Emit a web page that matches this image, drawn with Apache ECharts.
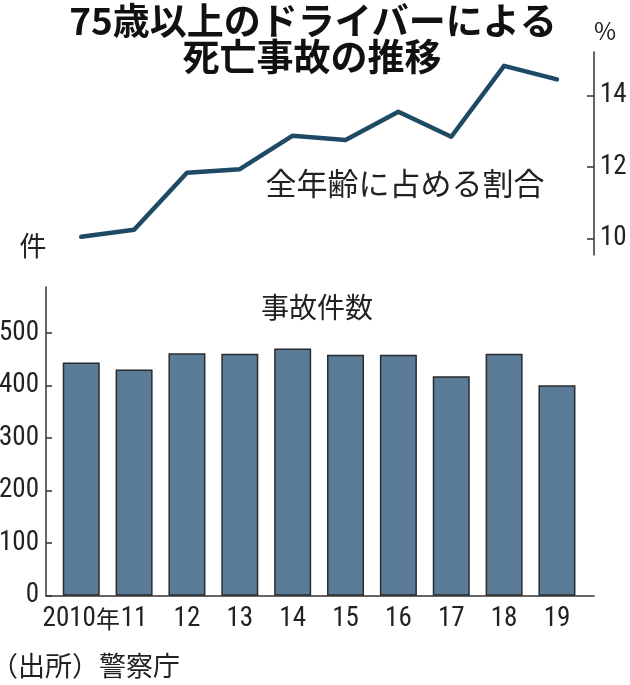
<!DOCTYPE html>
<html><head><meta charset="utf-8">
<script src="https://cdn.jsdelivr.net/npm/echarts@6/dist/echarts.min.js"></script>
<style>html,body{margin:0;padding:0;background:#fff}#c{width:630px;height:685px}</style>
</head><body><div id="c"></div>
<script>
// ---- data ----
const years = ['2010年', '11', '12', '13', '14', '15', '16', '17', '18', '19'];
const shareValues = [10.04, 10.24, 11.84, 11.94, 12.88, 12.76, 13.55, 12.85, 14.84, 14.46]; // 全年齢に占める割合 (%)
const accidentCounts = [444, 431, 462, 461, 471, 459, 459, 418, 461, 401]; // 事故件数 (件)
const shareTickRange = [10, 14];
const shareTickStep = 2;
const countTickRange = [0, 500];
const countTickStep = 100;

// ---- styles ----
const CJK = "'Noto Sans CJK JP', sans-serif";
const NUMLABEL = { fontFamily: 'Roboto', fontWeight: 'condensed', fontSize: 27, color: '#222' };
const AX = { color: '#333', width: 1.5 };
const TXT = '#222';

const G = { outerBoundsMode: 'none', containLabel: false };
const chart = echarts.init(document.getElementById('c'), null, { renderer: 'canvas' });
chart.setOption({
  animation: false,
  backgroundColor: '#fff',
  grid: [
    Object.assign({ left: 54.8, right: 46.6, top: 52, bottom: 430 }, G),     // line + right axis line
    Object.assign({ left: 54.8, right: 46.6, top: 95.7, bottom: 446.7 }, G), // right ticks/labels
    Object.assign({ left: 46, right: 36, top: 287, bottom: 89.3 }, G),       // bottom axis lines
    Object.assign({ left: 46, right: 36, top: 333.2, bottom: 89.3 }, G),     // left ticks/labels
    Object.assign({ left: 54.8, right: 46.6, top: 287, bottom: 89.3 }, G)    // bars
  ],
  xAxis: [
    { gridIndex: 0, type: 'category', data: years, show: false },
    { gridIndex: 1, type: 'category', data: years, show: false },
    { gridIndex: 2, type: 'value', min: 0, max: 1, axisLine: { show: true, onZero: false, lineStyle: AX },
      axisTick: { show: false }, axisLabel: { show: false }, splitLine: { show: false } },
    { gridIndex: 3, type: 'value', min: 0, max: 1, show: false },
    { gridIndex: 4, type: 'category', data: years,
      axisLine: { show: false }, axisTick: { show: false },
      axisLabel: Object.assign({ interval: 0, margin: 10,
        formatter: v => v.endsWith('年') ? v.slice(0, -1) + '{y|年}' : v,
        rich: { y: { fontFamily: CJK, fontSize: 24, color: TXT } } }, NUMLABEL) }
  ],
  yAxis: [
    { gridIndex: 0, type: 'value', position: 'right', offset: 10.6, min: 9.53, max: 15.23,
      axisLine: { show: true, lineStyle: AX }, axisTick: { show: false }, axisLabel: { show: false },
      splitLine: { show: false } },
    { gridIndex: 1, type: 'value', position: 'right', offset: 10.6,
      min: shareTickRange[0], max: shareTickRange[1], interval: shareTickStep,
      axisLine: { show: false }, axisTick: { show: true, inside: true, length: 7, lineStyle: AX },
      axisLabel: Object.assign({ margin: 6 }, NUMLABEL), splitLine: { show: false } },
    { gridIndex: 2, type: 'value', min: 0, max: 588,
      axisLine: { show: true, lineStyle: AX }, axisTick: { show: false }, axisLabel: { show: false },
      splitLine: { show: false } },
    { gridIndex: 3, type: 'value', min: countTickRange[0], max: countTickRange[1], interval: countTickStep,
      axisLine: { show: false }, axisTick: { show: true, inside: true, length: 6, lineStyle: AX },
      axisLabel: Object.assign({ margin: 7 }, NUMLABEL), splitLine: { show: false } },
    { gridIndex: 4, type: 'value', min: 0, max: 588, show: false }
  ],
  series: [
    { type: 'line', xAxisIndex: 0, yAxisIndex: 0, data: shareValues, symbol: 'none',
      lineStyle: { width: 4.5, color: '#1e4a66', cap: 'round', join: 'round' } },
    { type: 'bar', xAxisIndex: 4, yAxisIndex: 4, data: accidentCounts, barWidth: 37,
      itemStyle: { color: '#5b7c98', borderColor: '#2a2a2a', borderWidth: 1.5 } }
  ],
  graphic: [
    { type: 'text', x: 313, y: 21, style: { text: '75歳以上のドライバーによる', fill: '#111',
      font: "bold 37px 'Noto Sans CJK JP'", textAlign: 'center', textVerticalAlign: 'middle' } },
    { type: 'text', x: 312, y: 57, style: { text: '死亡事故の推移', fill: '#111',
      font: "bold 37px 'Noto Sans CJK JP'", textAlign: 'center', textVerticalAlign: 'middle' } },
    { type: 'text', x: 605, y: 31, style: { text: '%', fill: TXT,
      font: "24px 'Noto Sans CJK JP'", textAlign: 'center', textVerticalAlign: 'middle' } },
    { type: 'text', x: 405, y: 183, style: { text: '全年齢に占める割合', fill: TXT,
      font: "31px 'Noto Sans CJK JP'", textAlign: 'center', textVerticalAlign: 'middle' } },
    { type: 'text', x: 33, y: 246, style: { text: '件', fill: TXT,
      font: "27px 'Noto Sans CJK JP'", textAlign: 'center', textVerticalAlign: 'middle' } },
    { type: 'text', x: 317, y: 307, style: { text: '事故件数', fill: TXT,
      font: "28px 'Noto Sans CJK JP'", textAlign: 'center', textVerticalAlign: 'middle' } },
    { type: 'text', x: -9, y: 666, style: { text: '（出所）警察庁', fill: TXT,
      font: "27px 'Noto Sans CJK JP'", textAlign: 'left', textVerticalAlign: 'middle' } }
  ]
});
</script>
</body></html>
